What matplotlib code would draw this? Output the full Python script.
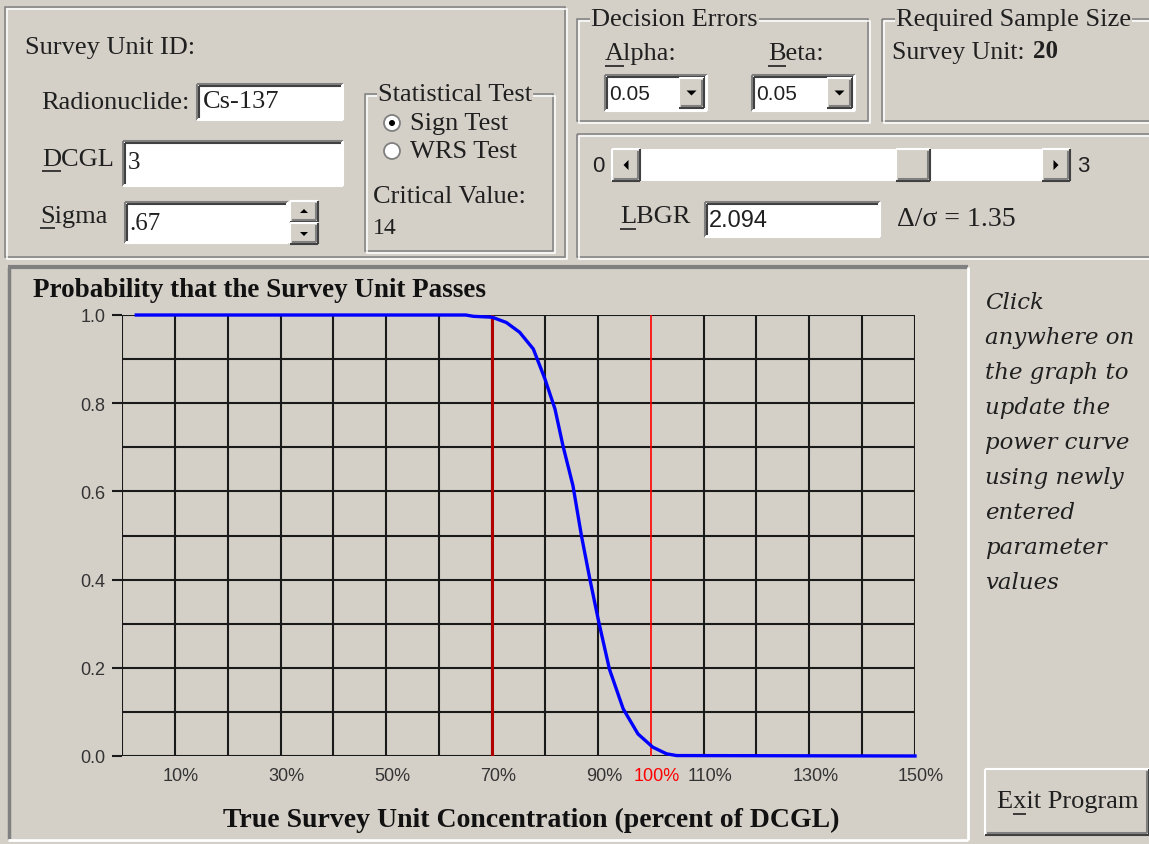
import matplotlib
matplotlib.use("Agg")
import matplotlib.pyplot as plt
import matplotlib.transforms as mtrans
from matplotlib.patches import Rectangle, Circle, Polygon

# power curve (percent of DCGL -> probability of passing)
conc_pct = [2.7, 65, 66.5, 70, 72.7, 75.2, 77.8, 80.0, 81.9, 83.4, 85.3, 86.9,
            88.5, 90.2, 92.2, 94.8, 97.6, 100.4, 103.0, 104.9, 150]
prob_pass = [1.0, 1.0, 0.997, 0.995, 0.983, 0.961, 0.923, 0.855, 0.787, 0.704, 0.613, 0.500,
             0.401, 0.303, 0.197, 0.107, 0.050, 0.020, 0.005, 0.001, 0.0]
x_tick_vals = [10, 30, 50, 70, 90, 100, 110, 130, 150]
x_tick_labels = ["10%", "30%", "50%", "70%", "90%", "100%", "110%", "130%", "150%"]
y_tick_vals = [0.0, 0.2, 0.4, 0.6, 0.8, 1.0]
lbgr_pct = 70
dcgl_pct = 100

FACE = "#D4D0C8"
SHADOW = "#808080"
DARK = "#404040"
SERIF = "Liberation Serif"
SANS = "Liberation Sans"
PX = 100 / 72  # pixels per point

W, H = 1149, 845
fig = plt.figure(figsize=(W / 100, H / 100), dpi=100, facecolor=FACE)
bg = fig.add_axes([0, 0, 1, 1])
bg.set_xlim(0, W)
bg.set_ylim(H, 0)
bg.axis("off")


def hline(x0, x1, y, c, lw=1.0):
    bg.plot([x0, x1], [y, y], color=c, lw=lw, solid_capstyle="butt")


def vline(x, y0, y1, c, lw=1.0):
    bg.plot([x, x], [y0, y1], color=c, lw=lw, solid_capstyle="butt")


def sunken(x0, y0, x1, y1, fill="white"):
    bg.add_patch(Rectangle((x0, y0), x1 - x0, y1 - y0, fc=fill, ec="none"))
    hline(x0, x1, y0, SHADOW, 1.5)
    vline(x0, y0, y1, SHADOW, 1.5)
    hline(x0 + 2, x1 - 2, y0 + 2, DARK, 1.5)
    vline(x0 + 2, y0 + 2, y1 - 2, DARK, 1.5)
    hline(x0, x1, y1, "white", 1.5)
    vline(x1, y0, y1, "white", 1.5)


def raised(x0, y0, x1, y1):
    bg.add_patch(Rectangle((x0, y0), x1 - x0, y1 - y0, fc=FACE, ec="none"))
    hline(x0, x1, y0, "white", 1.5)
    vline(x0, y0, y1, "white", 1.5)
    hline(x0, x1, y1, DARK, 1.5)
    vline(x1, y0, y1, DARK, 1.5)
    hline(x0 + 2, x1 - 2, y1 - 2, SHADOW, 1.5)
    vline(x1 - 2, y0 + 2, y1 - 2, SHADOW, 1.5)


def etched(x0, y0, x1, y1):
    for off, c in ((0, SHADOW), (1.5, "white")):
        bg.add_patch(Rectangle((x0 + off, y0 + off), x1 - x0, y1 - y0,
                               fc="none", ec=c, lw=1.1))


def group(x0, y0, x1, y1, title, tx, size=19):
    etched(x0, y0, x1, y1)
    bg.text(tx, y0, title, fontsize=size, family=SERIF, va="center", ha="left",
            color="#202020", bbox=dict(fc=FACE, ec="none", pad=1.0))


def label(x, y, s, size=19, ha="left", **kw):
    bg.text(x, y, s, fontsize=size, family=kw.pop("family", SERIF), va="center",
            ha=ha, color=kw.pop("color", "#202020"), **kw)


def underline(x, y, char_em, size=19, skip_em=0.0):
    x0 = x + skip_em * size * PX
    hline(x0, x0 + char_em * size * PX, y, "#202020", 1.2)


def arrow(cx, cy, d, s=5):
    if d == "down":
        pts = [(cx - s, cy - s / 2), (cx + s, cy - s / 2), (cx, cy + s / 2)]
    elif d == "up":
        pts = [(cx - s, cy + s / 2), (cx + s, cy + s / 2), (cx, cy - s / 2)]
    elif d == "left":
        pts = [(cx + s / 2, cy - s), (cx + s / 2, cy + s), (cx - s / 2, cy)]
    else:
        pts = [(cx - s / 2, cy - s), (cx - s / 2, cy + s), (cx + s / 2, cy)]
    bg.add_patch(Polygon(pts, closed=True, fc="black", ec="none"))


# ---- top-left panel
etched(5, 8, 565, 258)
label(25, 48, "Survey Unit ID:", 19)
label(190, 103, "Radionuclide:", 19, ha="right")
sunken(197, 85, 343, 121)
label(203, 102, "Cs-137", 19)
label(42, 160, "DCGL", 19)
underline(42, 172, 0.722)
sunken(123, 142, 343, 187)
label(128, 163, "3", 18)
label(40, 217, "Sigma", 19)
underline(40, 229, 0.556)
sunken(125, 203, 288, 244)
label(129, 224, ".67", 18)
raised(290, 202, 318, 223)
arrow(304, 212, "up", 4)
raised(290, 224, 318, 245)
arrow(304, 235, "down", 4)

group(365, 95, 553, 252, "Statistical Test", 378, 19)
for cy, on in ((124, True), (152, False)):
    bg.add_patch(Circle((392, cy), 8, fc="white", ec=SHADOW, lw=1.3))
    if on:
        bg.add_patch(Circle((392, cy), 3, fc="black", ec="none"))
label(410, 124, "Sign Test", 19)
label(410, 152, "WRS Test", 19)
label(373, 197, "Critical Value:", 19)
label(373, 228, "14", 17)

# ---- decision errors
group(577, 20, 868, 122, "Decision Errors", 591, 19)
label(605, 54, "Alpha:", 19)
underline(605, 67, 0.722)
label(768, 54, "Beta:", 19)
underline(768, 67, 0.667)
for x0, x1 in ((605, 707), (752, 855)):
    sunken(x0, 76, x1, 112)
    label(x0 + 4, 94, "0.05", 15, family=SANS)
    raised(x1 - 28, 79, x1 - 3, 109)
    arrow(x1 - 15.5, 94, "down", 5)

# ---- required sample size
group(882, 20, 1155, 122, "Required Sample Size", 896, 19)
label(892, 53, "Survey Unit:", 18.5)
label(1033, 51, "20", 18, fontweight="bold")

# ---- LBGR slider panel
etched(577, 135, 1155, 258)
label(592, 166, "0", 16, family=SANS)
bg.add_patch(Rectangle((612, 150), 458, 32, fc="white", ec="none"))
raised(612, 150, 640, 182)
arrow(626, 166, "left", 5)
raised(1042, 150, 1070, 182)
arrow(1056, 166, "right", 5)
raised(896, 150, 930, 182)
label(1077, 166, "3", 16, family=SANS)
label(620, 217, "LBGR", 19)
underline(620, 230, 0.611)
sunken(705, 203, 880, 238)
label(709, 221, "2.094", 17, family=SANS)
label(897, 220, "\u0394/\u03c3 = 1.35", 20)

# ---- chart panel
hline(8, 968, 268, SHADOW, 3)
vline(9, 268, 840, SHADOW, 2.5)
hline(8, 968, 841, "white", 2)
vline(968, 268, 841, "white", 2)
bg.text(33, 291, "Probability that the Survey Unit Passes", fontsize=19.5,
        family=SERIF, fontweight="bold", va="center", ha="left", color="#111111")
bg.text(531, 820, "True Survey Unit Concentration (percent of DCGL)", fontsize=20,
        family=SERIF, fontweight="bold", va="center", ha="center", color="#111111")

# right side note and button
note = ["Click", "anywhere on", "the graph to", "update the", "power curve",
        "using newly", "entered", "parameter", "values"]
for i, line in enumerate(note):
    bg.text(985, 303 + i * 35, line, fontsize=16.5, family="DejaVu Serif",
            style="italic", va="center", ha="left", color="#202020")
raised(985, 770, 1149, 836)
label(997, 802, "Exit Program", 19)
underline(997, 815, 0.5, skip_em=0.611)

# ---- plot
ax = fig.add_axes([122 / W, (H - 757) / H, 793 / W, 441 / H])
ax.set_facecolor("none")
ax.set_xlim(0, 150)
ax.set_ylim(0, 1.0)
for g in range(0, 151, 10):
    if g != dcgl_pct:
        ax.axvline(g, color="#1a1a1a", lw=1.5, zorder=1)
for g in range(0, 11):
    ax.axhline(g / 10, color="#1a1a1a", lw=1.5, zorder=1)
ax.axvline(lbgr_pct, color="#B00000", lw=2.2, zorder=2)
ax.axvline(dcgl_pct, color="#FF0000", lw=1.2, zorder=2)
ax.plot(conc_pct, prob_pass, color="#0000FF", lw=2.4, zorder=3, clip_on=False)

for s in ax.spines.values():
    s.set_visible(False)
ax.set_yticks(y_tick_vals)
ax.set_yticklabels([f"{v:.1f}" for v in y_tick_vals], family=SANS, fontsize=13,
                   color="#333333")
ax.tick_params(axis="y", length=7, width=1.5, color="#1a1a1a", pad=5)
ax.set_xticks(x_tick_vals)
ax.set_xticklabels(x_tick_labels, family=SANS, fontsize=13, color="#333333")
ax.tick_params(axis="x", length=0, pad=8)
shift = mtrans.ScaledTranslation(6 / 100, 0, fig.dpi_scale_trans)
for t in ax.get_xticklabels():
    t.set_transform(t.get_transform() + shift)
    if t.get_text() == "100%":
        t.set_color("#FF0000")

fig.savefig("out.png", dpi=100, facecolor=FACE)
